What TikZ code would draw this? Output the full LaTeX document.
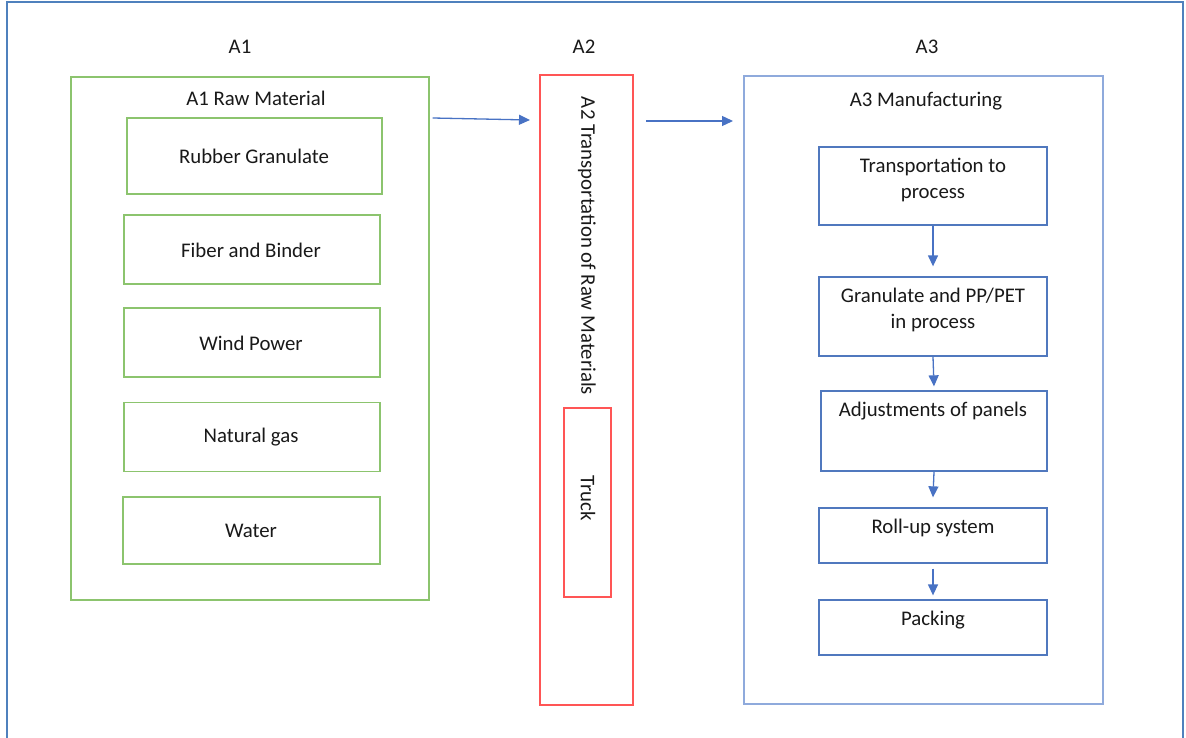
\documentclass[tikz,border=0pt]{standalone}
\usepackage{fontspec}
\setmainfont{Carlito}
\usetikzlibrary{arrows.meta}
\definecolor{frameblue}{RGB}{79,129,189}
\definecolor{boxgreen}{RGB}{140,196,110}
\definecolor{boxred}{RGB}{255,85,85}
\definecolor{lightblue}{RGB}{143,170,220}
\definecolor{stepblue}{RGB}{80,120,190}
\definecolor{arrowblue}{RGB}{72,114,196}
\definecolor{txt}{RGB}{25,25,25}
\tikzset{
  lbl/.style={font=\fontsize{20.8}{26}\selectfont, text=txt, inner sep=0pt, align=center},
  greenbox/.style={draw=boxgreen, line width=1.4pt, inner sep=0pt},
  redbox/.style={draw=boxred, line width=1.4pt, inner sep=0pt},
  bluebig/.style={draw=lightblue, line width=1.4pt, inner sep=0pt},
  stepbox/.style={draw=stepblue, line width=1.3pt, inner sep=0pt},
  flow/.style={draw=arrowblue, line width=1.3pt, -{Triangle[length=11pt,width=10pt]}},
}
\begin{document}
\begin{tikzpicture}[x=1pt,y=-1pt]
\useasboundingbox (0,0) rectangle (1186,738);
\fill[white] (0,0) rectangle (1186,738);
% outer frame (bottom edge lies outside the picture)
\draw[frameblue, line width=2.2pt] (7,760) -- (7,2) -- (1183,2) -- (1183,760);

% column labels
\node[lbl] (lA1) at (240,47) {A1};
\node[lbl] (lA2) at (584,47) {A2};
\node[lbl] (lA3) at (927,47) {A3};

% A1
\node[greenbox, minimum width=358pt, minimum height=523pt] (A1) at (250,338.5) {};
\node[lbl] (A1t) at (256,98) {A1 Raw Material};
\node[greenbox, minimum width=255pt, minimum height=76pt] (rg) at (254.5,156) {};
\node[lbl] (rgt) at (254,156) {Rubber Granulate};
\node[greenbox, minimum width=256pt, minimum height=69pt] (fb) at (252,249.5) {};
\node[lbl] (fbt) at (251,250) {Fiber and Binder};
\node[greenbox, minimum width=256pt, minimum height=69pt] (wp) at (252,342.5) {};
\node[lbl] (wpt) at (251,343) {Wind Power};
\node[greenbox, minimum width=256pt, minimum height=69pt] (ng) at (252,437) {};
\node[lbl] (ngt) at (251,437) {Natural gas};
\node[greenbox, minimum width=257pt, minimum height=67pt] (wa) at (251.5,530.5) {};
\node[lbl] (wat) at (251,531) {Water};

% A2
\node[redbox, minimum width=93pt, minimum height=630pt] (A2) at (586.5,390) {};
\node[lbl, rotate=-90] (A2t) at (587,246) {A2 Transportation of Raw Materials};
\node[redbox, minimum width=47pt, minimum height=189pt] (tr) at (587.5,502.5) {};
\node[lbl, rotate=-90] (trt) at (588,498) {Truck};

% A3
\node[bluebig, minimum width=359pt, minimum height=628pt] (A3) at (923.5,390) {};
\node[lbl] (A3t) at (926,101) {A3 Manufacturing};
\node[stepbox, minimum width=228pt, minimum height=78pt] (s1) at (933,186) {};
\node[lbl] (s1t) at (933,180) {Transportation to\\process};
\node[stepbox, minimum width=228pt, minimum height=79pt] (s2) at (933,316.5) {};
\node[lbl] (s2t) at (933,310) {Granulate and PP/PET\\in process};
\node[stepbox, minimum width=226pt, minimum height=80pt] (s3) at (934,431) {};
\node[lbl] (s3t) at (933,411) {Adjustments of panels};
\node[stepbox, minimum width=228pt, minimum height=55pt] (s4) at (933,535.5) {};
\node[lbl] (s4t) at (933,528) {Roll-up system};
\node[stepbox, minimum width=228pt, minimum height=55pt] (s5) at (933,627.5) {};
\node[lbl] (s5t) at (933,620) {Packing};

% connectors
\coordinate (a1e) at (530,120);
\draw[flow] (A1.east |- 0,118) ++(3,0) -- (a1e);
\coordinate (a2s) at (646,121);
\coordinate (a2e) at (733,121);
\draw[flow] (a2s) -- (a2e);
\draw[flow] (s1.south) -- ([yshift=10pt]s2.north);
\draw[flow] (s2.south) -- ([yshift=4pt]s3.north);
\draw[flow] (s3.south) -- ([yshift=10pt]s4.north);
\draw[flow] ([yshift=-5pt]s4.south) -- ([yshift=4pt]s5.north);
\end{tikzpicture}
\end{document}
